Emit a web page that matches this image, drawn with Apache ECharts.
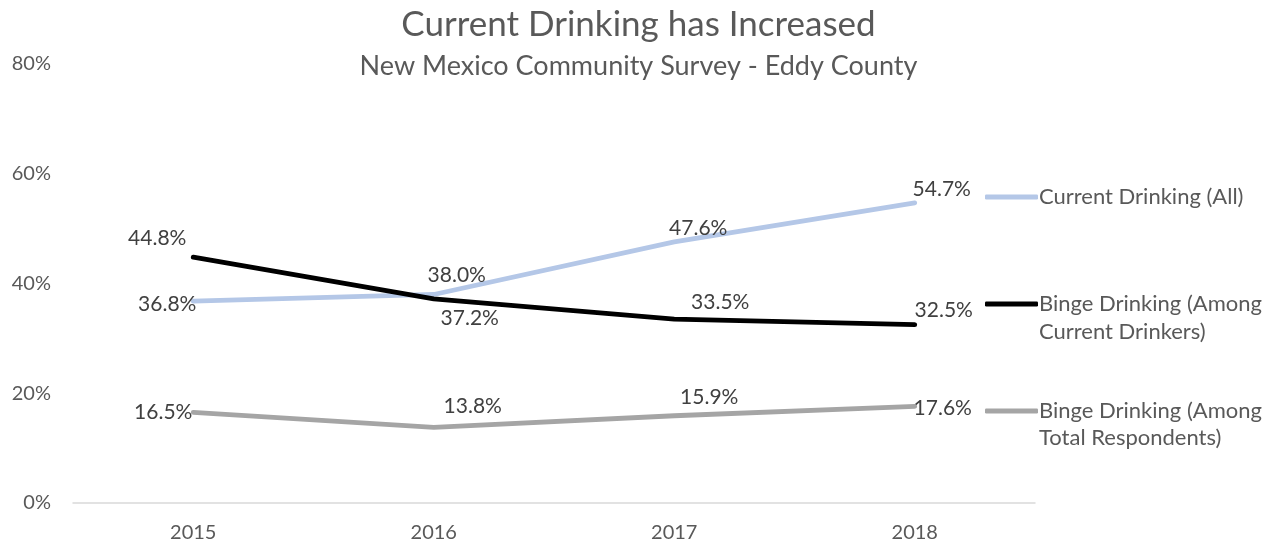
<!DOCTYPE html>
<html>
<head>
<meta charset="utf-8">
<script src="https://cdn.jsdelivr.net/npm/echarts@6/dist/echarts.min.js"></script>
<style>
  html, body { margin: 0; padding: 0; background: #fff; }
  #chart { width: 1277px; height: 545px; }
</style>
</head>
<body>
<div id="chart"></div>
<script>
// Survey years and the three drinking rates (percent)
var years = ['2015', '2016', '2017', '2018'];
var currentDrinkingAll = [36.8, 38.0, 47.6, 54.7];
var bingeAmongCurrent = [44.8, 37.2, 33.5, 32.5];
var bingeAmongTotal = [16.5, 13.8, 15.9, 17.6];
var yTicks = [0, 20, 40, 60, 80];

var FONT = 'Lato, "Open Sans", sans-serif';

// Label offsets (px from each point) so the value labels sit clear of the lines
var labelOffsets = {
  all: [[-26, 3], [23, -19], [24, -14], [27, -14]],
  current: [[-36, -19], [36, 19], [46, -17], [29, -14]],
  total: [[-30, 0], [39, -21], [35, -19], [28, 2]]
};

function buildSeries(name, values, color, offsets) {
  return {
    name: name,
    type: 'line',
    data: values.map(function (v, i) {
      return {
        value: v,
        label: { offset: offsets[i] }
      };
    }),
    symbol: 'circle',
    symbolSize: 1,
    showSymbol: true,
    itemStyle: { color: color },
    lineStyle: { color: color, width: 4.8, cap: 'round', join: 'round' },
    emphasis: { disabled: true },
    label: {
      show: true,
      position: 'inside',
      formatter: function (p) { return p.value.toFixed(1) + '%'; },
      color: '#404040',
      fontFamily: FONT,
      fontSize: 21
    },
    z: 3
  };
}

var chart = echarts.init(document.getElementById('chart'));
chart.setOption({
  animation: false,
  backgroundColor: '#ffffff',
  title: [
    {
      text: 'Current Drinking has Increased',
      left: 'center',
      top: 2,
      textStyle: { color: '#595959', fontFamily: FONT, fontWeight: 'normal', fontSize: 35 }
    },
    {
      text: 'New Mexico Community Survey - Eddy County',
      left: 'center',
      top: 48,
      textStyle: { color: '#595959', fontFamily: FONT, fontWeight: 'normal', fontSize: 27 }
    }
  ],
  legend: {
    orient: 'vertical',
    left: 980,
    top: 179,
    itemWidth: 53,
    itemHeight: 5,
    itemGap: 81,
    icon: 'roundRect',
    selectedMode: false,
    formatter: function (name) { return name.split('\n')[0]; },
    textStyle: { color: '#595959', fontFamily: FONT, fontSize: 22, lineHeight: 26, padding: [0, 0, 0, -4] },
    data: ['Current Drinking (All)', 'Binge Drinking (Among\nCurrent Drinkers)', 'Binge Drinking (Among\nTotal Respondents)']
  },
  graphic: [
    {
      type: 'text', left: 1039, top: 321,
      style: { text: 'Current Drinkers)', fill: '#595959', font: '22px ' + FONT }
    },
    {
      type: 'text', left: 1039, top: 427,
      style: { text: 'Total Respondents)', fill: '#595959', font: '22px ' + FONT }
    }
  ],
  grid: { left: 73, right: 242, top: 64, bottom: 42, containLabel: false },
  xAxis: {
    type: 'category',
    data: years,
    boundaryGap: true,
    axisLine: { show: true, lineStyle: { color: '#D9D9D9', width: 1.5 } },
    axisTick: { show: false },
    axisLabel: { color: '#595959', fontFamily: FONT, fontSize: 20, margin: 20 },
    splitLine: { show: false }
  },
  yAxis: {
    type: 'value',
    min: yTicks[0],
    max: yTicks[yTicks.length - 1],
    interval: yTicks[1] - yTicks[0],
    axisLine: { show: false },
    axisTick: { show: false },
    splitLine: { show: false },
    axisLabel: {
      color: '#595959', fontFamily: FONT, fontSize: 20, margin: 22,
      formatter: function (v) { return v + '%'; }
    }
  },
  series: [
    buildSeries('Current Drinking (All)', currentDrinkingAll, '#B4C7E7', labelOffsets.all),
    buildSeries('Binge Drinking (Among\nCurrent Drinkers)', bingeAmongCurrent, '#000000', labelOffsets.current),
    buildSeries('Binge Drinking (Among\nTotal Respondents)', bingeAmongTotal, '#A5A5A5', labelOffsets.total)
  ]
});
</script>
</body>
</html>
